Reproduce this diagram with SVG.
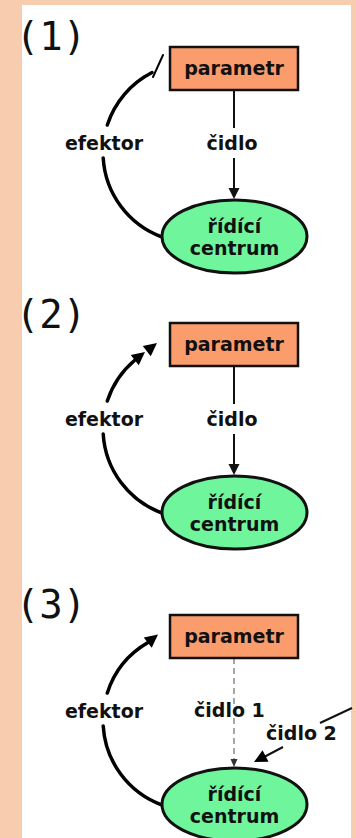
<svg xmlns="http://www.w3.org/2000/svg" xmlns:xlink="http://www.w3.org/1999/xlink" width="356" height="838" viewBox="0 0 356 838">
<style>
.num{font-family:"DejaVu Sans Mono","Liberation Mono",monospace;font-size:39px;fill:#111}
.lbl{font-family:"DejaVu Sans","Verdana",sans-serif;font-weight:bold;font-size:19px;fill:#111}
.mid{text-anchor:middle}
.box{fill:#fa9c6b;stroke:#111;stroke-width:2.5}
.ell{fill:#6ff59c;stroke:#111;stroke-width:3}
.arc{fill:none;stroke:#000;stroke-width:3.5;stroke-linecap:round}
.ln{fill:none;stroke:#111;stroke-width:2}
.dash{fill:none;stroke:#777;stroke-width:1.3;stroke-dasharray:6 4}
.halo{paint-order:stroke;stroke:#fff;stroke-width:3px;stroke-linejoin:round}
</style>
<defs>
<path id="ah" d="M0,0 L-13,-6.5 L-13,6.5 Z" fill="#000"/>
<path id="ahs" d="M0,0 L-11,-5.5 L-11,5.5 Z" fill="#111"/>
</defs>
<rect x="0" y="0" width="356" height="838" fill="#f8ccae"/>
<rect x="22" y="5" width="329" height="833" fill="#fff"/>

<g id="panel1">
  <text id="label1" class="num mid" x="51" y="50">(1)</text>
  <g id="p1-connectors">
    <path class="ln" d="M234,90 V128 M234,158 V189"/>
    <use xlink:href="#ahs" transform="translate(234,199) rotate(90)"/>
    <path class="arc" d="M162,237 A90,90 0 0 1 103.2,158 M107.3,125 A90,90 0 0 1 152,72.5"/>
    <line x1="153" y1="77" x2="163" y2="55" stroke="#000" stroke-width="2" stroke-linecap="round"/>
    <text class="lbl mid" x="232" y="150">čidlo</text>
    <text class="lbl mid" x="104" y="150">efektor</text>
  </g>
  <g id="p1-parametr">
    <rect class="box" x="170" y="47" width="128" height="43"/>
    <text class="lbl mid" x="234" y="75">parametr</text>
  </g>
  <g id="p1-centrum">
    <ellipse class="ell" cx="234.5" cy="236.5" rx="72.5" ry="36.5"/>
    <text class="lbl mid" x="234.5" y="233">řídící</text>
    <text class="lbl mid" x="234.5" y="255">centrum</text>
  </g>
</g>

<g id="panel2">
  <text id="label2" class="num mid" x="51" y="328">(2)</text>
  <g transform="translate(0,276)">
    <g id="p2-connectors">
      <path class="ln" d="M234,90 V128 M234,158 V189"/>
      <use xlink:href="#ahs" transform="translate(234,199) rotate(90)"/>
      <path class="arc" d="M162,237 A90,90 0 0 1 103.2,158 M107.3,125 A90,90 0 0 1 135,84"/>
      <use xlink:href="#ah" transform="translate(145,76) rotate(-38)"/>
      <use xlink:href="#ah" transform="translate(157,67) rotate(-38)"/>
      <text class="lbl mid" x="232" y="150">čidlo</text>
      <text class="lbl mid" x="104" y="150">efektor</text>
    </g>
    <g id="p2-parametr">
      <rect class="box" x="170" y="47" width="128" height="43"/>
      <text class="lbl mid" x="234" y="75">parametr</text>
    </g>
    <g id="p2-centrum">
      <ellipse class="ell" cx="234.5" cy="236.5" rx="72.5" ry="36.5"/>
      <text class="lbl mid" x="234.5" y="233">řídící</text>
      <text class="lbl mid" x="234.5" y="255">centrum</text>
    </g>
  </g>
</g>

<g id="panel3">
  <text id="label3" class="num mid" x="51" y="618">(3)</text>
  <g transform="translate(0,568)">
    <g id="p3-connectors">
      <path class="dash" d="M234,90 V192"/>
      <path d="M234,199 L230.5,191 L237.5,191 Z" fill="#333"/>
      <path class="arc" d="M162,237 A90,90 0 0 1 103.2,158 M107.3,125 A90,90 0 0 1 148,74.6"/>
      <use xlink:href="#ah" transform="translate(158,66.6) rotate(-38)"/>
      <path class="ln" d="M352,140 L320,155"/>
      <path class="ln" stroke-width="2.5" d="M283,179 L265,188.5"/>
      <use xlink:href="#ah" transform="translate(254,194) rotate(152.6)"/>
      <text class="lbl halo" x="194" y="149">čidlo 1</text>
      <text class="lbl" x="266" y="172">čidlo 2</text>
      <text class="lbl mid" x="104" y="150">efektor</text>
    </g>
    <g id="p3-parametr">
      <rect class="box" x="170" y="47" width="128" height="43"/>
      <text class="lbl mid" x="234" y="75">parametr</text>
    </g>
    <g id="p3-centrum">
      <ellipse class="ell" cx="234.5" cy="236.5" rx="72.5" ry="36.5"/>
      <text class="lbl mid" x="234.5" y="233">řídící</text>
      <text class="lbl mid" x="234.5" y="255">centrum</text>
    </g>
  </g>
</g>
</svg>
